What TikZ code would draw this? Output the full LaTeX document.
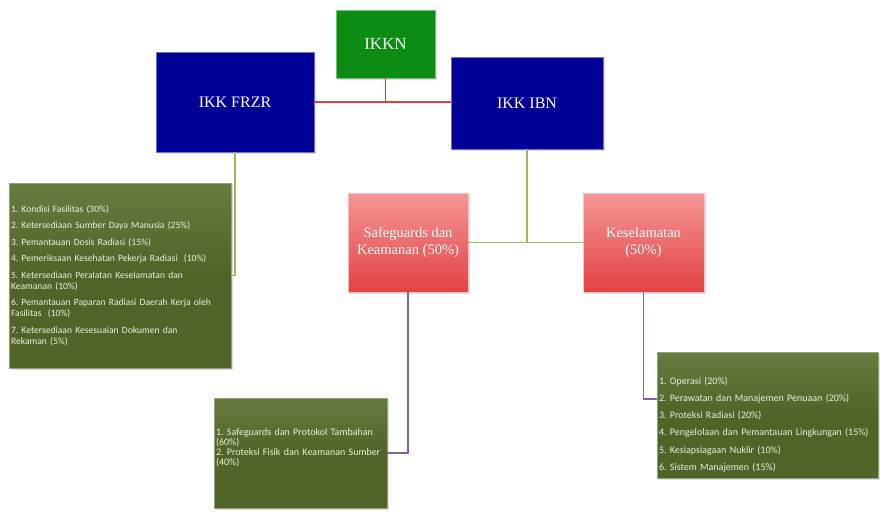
\documentclass[tikz,border=0pt]{standalone}
\usepackage{fontspec}
\setmainfont{Liberation Serif}
\newfontfamily\listfont{Carlito}
\usetikzlibrary{shadows}

\definecolor{ikknGreen}{RGB}{12,140,18}
\definecolor{ikkBlue}{RGB}{0,0,150}
\definecolor{pinkTop}{RGB}{246,150,150}
\definecolor{pinkBot}{RGB}{226,66,66}
\definecolor{oliveTop}{RGB}{104,124,64}
\definecolor{oliveBox}{RGB}{80,100,40}
\definecolor{listText}{RGB}{236,240,222}
\definecolor{redLine}{RGB}{222,62,62}
\definecolor{greenLine}{RGB}{155,187,89}
\definecolor{purpleLine}{RGB}{128,100,162}

\begin{document}
\frenchspacing
\begin{tikzpicture}[x=1pt,y=1pt,yscale=-1,xscale=1,
  headbox/.style={draw=#1!55!white, line width=0.8pt, fill=#1, text=white,
    drop shadow={opacity=0.25,shadow xshift=1.5pt,shadow yshift=-1.5pt}},
  pinkbox/.style={draw=pinkTop!60!white, line width=0.8pt, top color=pinkTop, bottom color=pinkBot,
    text=white, align=center, font=\fontsize{14.5}{16.5}\selectfont,
    minimum width=120pt, minimum height=99pt,
    drop shadow={opacity=0.25,shadow xshift=1.5pt,shadow yshift=-1.5pt}},
  listbox/.style={draw=oliveTop!70!white, line width=0.8pt, top color=oliveTop, bottom color=oliveBox,
    middle color=oliveBox, text=listText, align=left, inner xsep=2pt,
    drop shadow={opacity=0.25,shadow xshift=1.5pt,shadow yshift=-1.5pt}},
  redwire/.style={draw=redLine, line width=1.6pt},
  greenwire/.style={draw=greenLine, line width=1.6pt},
  purplewire/.style={draw=purpleLine, line width=1.6pt}]
\path[use as bounding box] (0,0) rectangle (880,512);

%Shape: Head Boxes
\node[headbox=ikknGreen, minimum width=99pt, minimum height=68pt, font=\fontsize{17}{20}\selectfont] (ikkn) at (385.5,44) {IKKN};
\node[headbox=ikkBlue, minimum width=158pt, minimum height=100pt, font=\fontsize{16}{19}\selectfont] (frzr) at (235,102) {IKK FRZR};
\node[headbox=ikkBlue, minimum width=152pt, minimum height=92pt, font=\fontsize{16}{19}\selectfont] (ibn) at (527,103) {IKK IBN};

%Shape: Aspect Boxes
\node[pinkbox] (sk) at (408,242.5) {Safeguards dan\\Keamanan (50\%)};
\node[pinkbox, minimum width=121pt] (kes) at (643.5,242.5) {Keselamatan\\(50\%)};

%Shape: Indicator Lists
\node[listbox, text width=218pt, font=\listfont\fontsize{9.6}{11}\selectfont, minimum height=185pt] (frzrlist) at (120,275.5)
  {1. Kondisi Fasilitas (30\%)\\[5.5pt]
   2. Ketersediaan Sumber Daya Manusia (25\%)\\[5.5pt]
   3. Pemantauan Dosis Radiasi (15\%)\\[5.5pt]
   4. Pemeriksaan Kesehatan Pekerja Radiasi\ \ (10\%)\\[5.5pt]
   5. Ketersediaan Peralatan Keselamatan dan\\Keamanan (10\%)\\[5.5pt]
   6. Pemantauan Paparan Radiasi Daerah Kerja oleh\\Fasilitas\ \ (10\%)\\[5.5pt]
   7. Ketersediaan Kesesuaian Dokumen dan\\Rekaman (5\%)};
\node[listbox, text width=169pt, font=\listfont\fontsize{10}{10}\selectfont, minimum height=110pt] (sglist) at (300.5,453)
  {1. Safeguards dan Protokol Tambahan\\(60\%)\\
   2. Proteksi Fisik dan Keamanan Sumber\\(40\%)\\[2pt]\mbox{}};
\node[listbox, text width=217pt, font=\listfont\fontsize{10}{17.2}\selectfont, minimum height=126pt] (keslist) at (767.5,415)
  {\mbox{}\\[9pt]
   1. Operasi (20\%)\\
   2. Perawatan dan Manajemen Penuaan (20\%)\\
   3. Proteksi Radiasi (20\%)\\
   4. Pengelolaan dan Pemantauan Lingkungan (15\%)\\
   5. Kesiapsiagaan Nuklir (10\%)\\
   6. Sistem Manajemen (15\%)};

%Straight Lines
\draw[redwire] (frzr.east) -- (frzr.east -| ibn.west);
\draw[redwire] (ikkn.south) -- (ikkn.south |- frzr.east);
\draw[greenwire] (frzr.south) |- (frzrlist.east);
\draw[greenwire] (ibn.south) -- (ibn.south |- sk.east);
\draw[greenwire] (sk.east) -- (kes.west);
\draw[purplewire] (sk.south) |- (sglist.east);
\draw[purplewire] (kes.south) |- ([yshift=-16pt]keslist.west);

\end{tikzpicture}
\end{document}
